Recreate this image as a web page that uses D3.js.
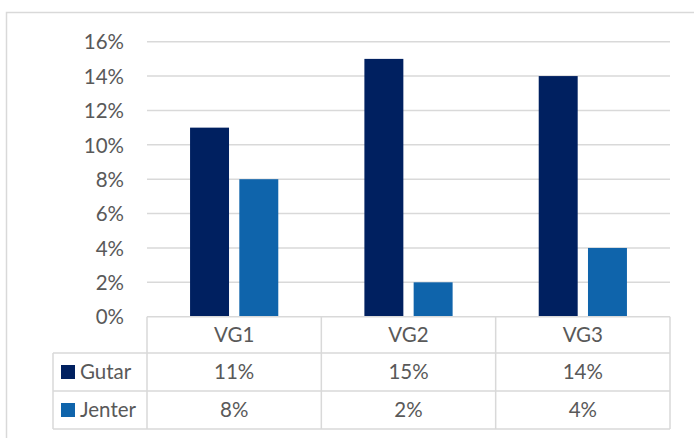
<!DOCTYPE html>
<html><head><meta charset="utf-8">
<script src="https://cdn.jsdelivr.net/npm/d3@7"></script>
<style>html,body{margin:0;padding:0;background:#fff;}svg{display:block;}</style>
</head><body>
<svg id="c" width="694" height="438"></svg>
<script>
const categories = ["VG1", "VG2", "VG3"];
const seriesNames = ["Gutar", "Jenter"];
const gutar = [0.11, 0.15, 0.14];
const jenter = [0.08, 0.02, 0.04];
const yTicks = [0, 0.02, 0.04, 0.06, 0.08, 0.10, 0.12, 0.14, 0.16];
const colors = ["#002060", "#0f64ab"];

const values = [gutar, jenter];
const svg = d3.select("#c");
const font = "Lato, 'Open Sans', sans-serif";
const fontSize = 20.5;
const textColor = "#595959";
const lineColor = "#d9d9d9";

// outer chart border (top + left)
svg.append("path").attr("d", "M6.5,438 L6.5,12.5 L694,12.5")
  .attr("fill", "none").attr("stroke", lineColor).attr("stroke-width", 1.5);

const x0 = d3.scaleBand().domain(categories).range([147, 670]).padding(0);
const x1 = d3.scaleBand().domain(seriesNames).range([0, x0.bandwidth()])
  .paddingInner(0.209).paddingOuter(0.874);
const y = d3.scaleLinear().domain([0, 0.16]).range([316.7, 41.7]);

// gridlines
svg.append("g").selectAll("line").data(yTicks.filter(d => d > 0)).join("line")
  .attr("x1", 147).attr("x2", 670)
  .attr("y1", d => y(d)).attr("y2", d => y(d))
  .attr("stroke", lineColor).attr("stroke-width", 1.5);

// y axis via d3 axis
const yAxis = d3.axisLeft(y).tickValues(yTicks).tickFormat(d3.format(".0%")).tickSize(0).tickPadding(0);
const ga = svg.append("g").attr("transform", "translate(124,0)").call(yAxis);
ga.select(".domain").remove();
ga.selectAll("text").attr("font-family", font).attr("font-size", fontSize)
  .attr("fill", textColor).attr("dy", "0.35em");

// bars
const g = svg.append("g");
categories.forEach((c, i) => {
  seriesNames.forEach((s, j) => {
    g.append("rect")
      .attr("x", x0(c) + x1(s))
      .attr("width", x1.bandwidth())
      .attr("y", y(values[j][i]))
      .attr("height", y(0) - y(values[j][i]))
      .attr("fill", colors[j]);
  });
});

// data table
const rowY = [316.7, 353, 391, 429];
const leftX = 53;
const t = svg.append("g").attr("stroke", lineColor).attr("stroke-width", 1.5);
t.append("line").attr("x1", 147).attr("x2", 670).attr("y1", rowY[0]).attr("y2", rowY[0]);
[1, 2, 3].forEach(r => t.append("line").attr("x1", leftX).attr("x2", 670).attr("y1", rowY[r]).attr("y2", rowY[r]));
t.append("line").attr("x1", leftX).attr("x2", leftX).attr("y1", rowY[1]).attr("y2", rowY[3]);
const colEdges = categories.map(c => x0(c)).concat([x0.range()[1]]);
colEdges.forEach(xx => t.append("line").attr("x1", xx).attr("x2", xx).attr("y1", rowY[0]).attr("y2", rowY[3]));

const fmt = d3.format(".0%");
const tx = svg.append("g").attr("font-family", font).attr("font-size", fontSize).attr("fill", textColor);
categories.forEach((c, i) => {
  const cx = x0(c) + x0.bandwidth() / 2;
  tx.append("text").attr("x", cx).attr("y", (rowY[0] + rowY[1]) / 2).attr("dy", "0.35em")
    .attr("text-anchor", "middle").text(c);
  values.forEach((vals, j) => {
    tx.append("text").attr("x", cx).attr("y", (rowY[j + 1] + rowY[j + 2]) / 2).attr("dy", "0.35em")
      .attr("text-anchor", "middle").text(fmt(vals[i]));
  });
});
seriesNames.forEach((s, j) => {
  const cy = (rowY[j + 1] + rowY[j + 2]) / 2;
  svg.append("rect").attr("x", 61).attr("y", cy - 7).attr("width", 14).attr("height", 14).attr("fill", colors[j]);
  tx.append("text").attr("x", 80).attr("y", cy).attr("dy", "0.35em").text(s);
});
</script>
</body></html>
